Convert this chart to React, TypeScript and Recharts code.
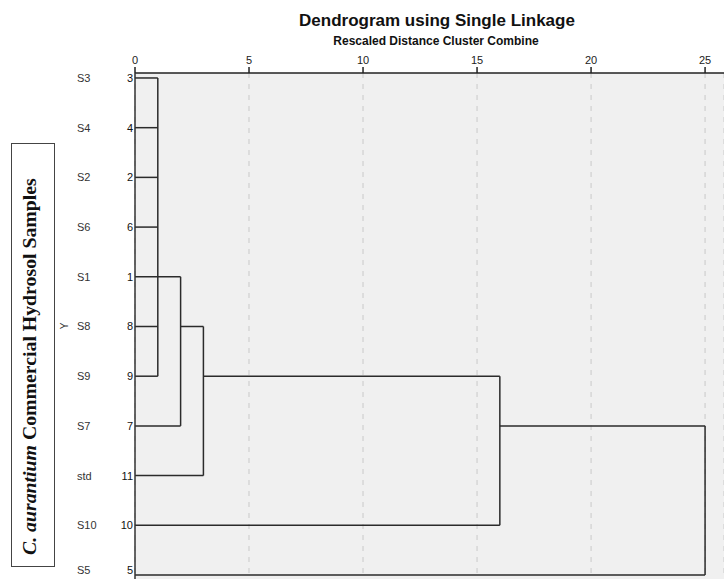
import React from 'react';
import { ComposedChart, XAxis, YAxis, CartesianGrid, ReferenceLine, Scatter } from 'recharts';

// Leaf order (top to bottom) and their case numbers
const leaves = ['S3', 'S4', 'S2', 'S6', 'S1', 'S8', 'S9', 'S7', 'std', 'S10', 'S5'];
const caseNumbers = [3, 4, 2, 6, 1, 8, 9, 7, 11, 10, 5];
const distanceTicks = [0, 5, 10, 15, 20, 25];

// Horizontal links: [row, fromDistance, toDistance]
const horizontalLinks: [number, number, number][] = [
  [0, 0, 1],
  [1, 0, 1],
  [2, 0, 1],
  [3, 0, 1],
  [4, 0, 2],
  [5, 0, 1],
  [5, 2, 3],
  [6, 0, 1],
  [6, 3, 16],
  [7, 0, 2],
  [7, 16, 25],
  [8, 0, 3],
  [9, 0, 16],
  [10, 0, 25],
];

// Vertical links (merge heights): [distance, fromRow, toRow]
const verticalLinks: [number, number, number][] = [
  [1, 0, 6],
  [2, 4, 7],
  [3, 5, 8],
  [16, 6, 9],
  [25, 7, 10],
];

const leafPoints = leaves.map((name, i) => ({ x: 0, y: i, name }));
const rowTicks = leaves.map((_, i) => i);

const SANS = '"Liberation Sans", Arial, sans-serif';
const SERIF = '"Liberation Serif", "Times New Roman", serif';
const LINK = '#2b2b2b';

const LeafTick = (props: any) => {
  const { y, payload } = props;
  const i = payload.value;
  return (
    <g>
      <text x={77} y={y} dy={4} fontSize={11} fontFamily={SANS} fill="#333" stroke="none" textAnchor="start">
        {leaves[i]}
      </text>
      <text x={133} y={y} dy={4} fontSize={11} fontFamily={SANS} fill="#111" stroke="none" textAnchor="end">
        {caseNumbers[i]}
      </text>
    </g>
  );
};

export default function App() {
  return (
    <div style={{ position: 'absolute', left: 0, top: 0, width: 724, height: 579, background: '#fff' }}>
      <ComposedChart
        width={724}
        height={579}
        data={leafPoints}
        margin={{ top: 0, right: 0, bottom: 0, left: 0 }}
      >
        <CartesianGrid
          horizontal={false}
          vertical={true}
          fill="#f0f0f0"
          stroke="#c9c9c9"
          strokeDasharray="5 6"
        />
        <XAxis
          type="number"
          dataKey="x"
          orientation="top"
          domain={[0, 25.83]}
          ticks={distanceTicks}
          allowDataOverflow
          height={73}
          tickSize={6}
          tickMargin={3}
          axisLine={{ stroke: '#222', strokeWidth: 1.5 }}
          tickLine={{ stroke: '#222', strokeWidth: 1.5 }}
          tick={{ fontSize: 11, fontFamily: SANS, fill: '#222' }}
        />
        <YAxis
          type="number"
          dataKey="y"
          reversed
          domain={[-0.1, 10.08]}
          ticks={rowTicks}
          allowDataOverflow
          width={135}
          tickLine={false}
          axisLine={{ stroke: '#333', strokeWidth: 1.5 }}
          tick={<LeafTick />}
        />
        <Scatter dataKey="y" isAnimationActive={false} shape={() => null} />
        {horizontalLinks.map(([row, a, b], k) => (
          <ReferenceLine
            key={'h' + k}
            segment={[{ x: a, y: row }, { x: b, y: row }]}
            stroke={LINK}
            strokeWidth={1.5}
            ifOverflow="visible"
          />
        ))}
        {verticalLinks.map(([d, r1, r2], k) => (
          <ReferenceLine
            key={'v' + k}
            segment={[{ x: d, y: r1 }, { x: d, y: r2 }]}
            stroke={LINK}
            strokeWidth={1.5}
            ifOverflow="visible"
          />
        ))}
      </ComposedChart>
      <svg
        width={724}
        height={579}
        style={{ position: 'absolute', left: 0, top: 0, pointerEvents: 'none' }}
      >
        <text x={437} y={26} textAnchor="middle" fontSize={17} fontWeight="bold" fontFamily={SANS} fill="#111">
          Dendrogram using Single Linkage
        </text>
        <text x={436} y={45} textAnchor="middle" fontSize={12} fontWeight="bold" fontFamily={SANS} fill="#111">
          Rescaled Distance Cluster Combine
        </text>
        <text transform="translate(68,326) rotate(-90)" textAnchor="middle" fontSize={10} fontFamily={SANS} fill="#333">
          Y
        </text>
        <rect x={11.5} y={143.5} width={43} height={423} fill="#fff" stroke="#444" strokeWidth={1} />
        <text
          transform="translate(36,555) rotate(-90)"
          textAnchor="start"
          fontSize={19.8}
          fontWeight="bold"
          fontFamily={SERIF}
          fill="#111"
        >
          <tspan fontStyle="italic">C. aurantium</tspan>
          <tspan> Commercial Hydrosol Samples</tspan>
        </text>
      </svg>
    </div>
  );
}
